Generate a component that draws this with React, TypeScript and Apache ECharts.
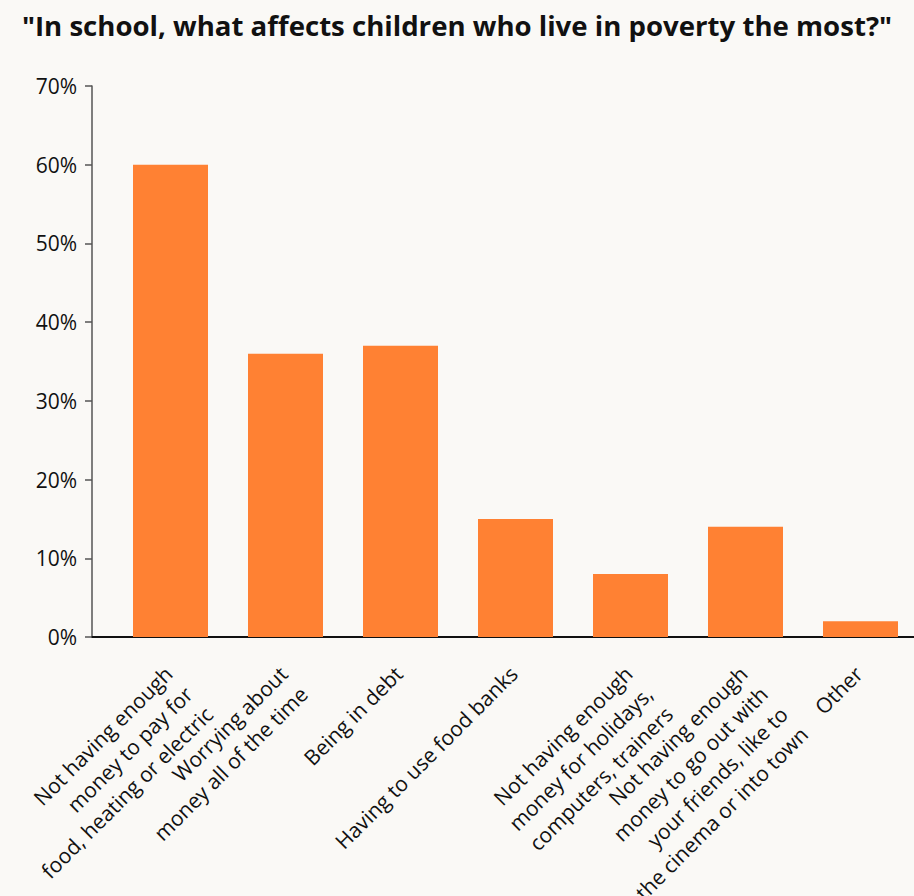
import React, { useEffect, useRef } from "react";
import * as echarts from "echarts";

const categories: string[] = [
  "Not having enough\nmoney to pay for\nfood, heating or electric",
  "Worrying about\nmoney all of the time",
  "Being in debt",
  "Having to use food banks",
  "Not having enough\nmoney for holidays,\ncomputers, trainers",
  "Not having enough\nmoney to go out with\nyour friends, like to\nthe cinema or into town",
  "Other",
];
const values: number[] = [60, 36, 37, 15, 8, 14, 2];
const yTicks: number[] = [0, 10, 20, 30, 40, 50, 60, 70];

const FONT = "'Open Sans', 'Noto Sans', sans-serif";
const BAR = "#FF8133";
const BG = "#FAF9F6";

export default function App() {
  const ref = useRef<HTMLDivElement>(null);
  useEffect(() => {
    document.body.style.margin = "0";
    document.body.style.background = BG;
    const chart = echarts.init(ref.current!, null, { renderer: "svg" });
    const top = 86;
    const bottom = 259;
    chart.setOption({
      animation: false,
      backgroundColor: BG,
      title: {
        text: '"In school, what affects children who live in poverty the most?"',
        left: "center",
        top: 6,
        textStyle: { fontFamily: FONT, fontSize: 27.6, fontWeight: "bold", color: "#111" },
      },
      grid: [
        { left: 113, width: 805, top, bottom, containLabel: false, outerBoundsMode: "none" },
        { left: 92, right: 0, top, bottom, containLabel: false, outerBoundsMode: "none" },
      ],
      xAxis: [
        {
          type: "category",
          gridIndex: 0,
          data: categories,
          axisLine: { show: false },
          axisTick: { show: false },
          axisLabel: {
            show: true,
            interval: 0,
            rotate: 45,
            margin: 11,
            align: "right",
            verticalAlign: "top",
            padding: [0, 17, 0, 0],
            fontFamily: FONT,
            fontSize: 21,
            lineHeight: 28.5,
            color: "#111",
          },
        },
        {
          type: "value",
          gridIndex: 1,
          min: 0,
          max: 1,
          axisLine: { show: true, lineStyle: { color: "#111", width: 2 } },
          axisTick: { show: false },
          axisLabel: { show: false },
          splitLine: { show: false },
        },
      ],
      yAxis: [
        {
          type: "value",
          gridIndex: 0,
          min: 0,
          max: 70,
          interval: 10,
          show: false,
        },
        {
          type: "value",
          gridIndex: 1,
          min: 0,
          max: 70,
          interval: 10,
          axisLine: { show: true, lineStyle: { color: "#555", width: 1.5 } },
          axisTick: { show: true, length: 7, lineStyle: { color: "#555", width: 1.5 } },
          axisLabel: {
            margin: 15,
            fontFamily: FONT,
            fontSize: 21,
            color: "#111",
            formatter: (v: number) => (yTicks.includes(v) ? `${v}%` : ""),
          },
          splitLine: { show: false },
        },
      ],
      series: [
        {
          type: "bar",
          xAxisIndex: 0,
          yAxisIndex: 0,
          data: values,
          barWidth: 75,
          itemStyle: { color: BAR },
        },
      ],
    });
    return () => chart.dispose();
  }, []);
  return <div ref={ref} style={{ width: 914, height: 896, background: BG }} />;
}
